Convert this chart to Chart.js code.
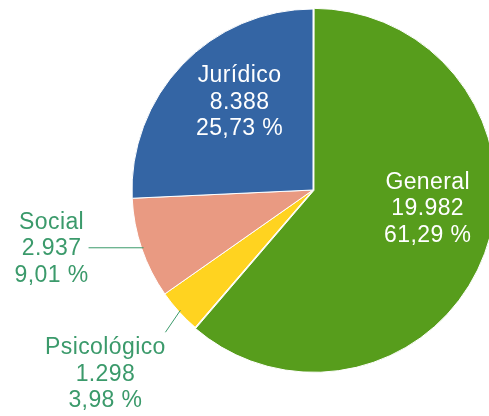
<!DOCTYPE html>
<html>
<head>
<meta charset="utf-8">
<script src="https://cdn.jsdelivr.net/npm/chart.js@4.4.1/dist/chart.umd.min.js"></script>
<style>
  html, body { margin: 0; padding: 0; background: #fff; }
  #wrap { width: 489px; height: 416px; }
</style>
</head>
<body>
<div id="wrap"><canvas id="pie" width="489" height="416"></canvas></div>
<script>
// data
const categories = ["General", "Psicológico", "Social", "Jurídico"];
const values = [19982, 1298, 2937, 8388];
const sliceColors = ["#579d1c", "#ffd320", "#e99a82", "#3465a4"];
const sliceOffsets = [4, 0, 0, 0];

// label placement (inside = white text on slice, outside = green text with leader line)
const labelLayout = [
  { inside: true, dx: 4, dy: -22 },
  { inside: false, lead: [-15, 22], text: [-75, 64] },
  { inside: false, lead: [-55, 0], text: [-92, 1] },
  { inside: true, dx: 9, dy: -9 }
];
const outsideColor = "#3b9a6b";
const labelFont = '23px "Liberation Sans", Arial, sans-serif';
const lineHeight = 26.5;

const total = values.reduce((a, b) => a + b, 0);

function fmtInt(n) {
  return String(n).replace(/\B(?=(\d{3})+(?!\d))/g, ".");
}
function fmtPct(n) {
  return (n * 100 / total).toFixed(2).replace(".", ",") + " %";
}

const pieLabels = {
  id: "pieLabels",
  afterDatasetsDraw(chart) {
    const ctx = chart.ctx;
    const meta = chart.getDatasetMeta(0);
    ctx.save();
    ctx.font = labelFont;
    ctx.letterSpacing = "0.4px";
    ctx.textAlign = "center";
    ctx.textBaseline = "middle";
    meta.data.forEach((arc, i) => {
      const p = arc.getProps(["x", "y", "startAngle", "endAngle", "outerRadius"], true);
      const mid = (p.startAngle + p.endAngle) / 2;
      const off = sliceOffsets[i];
      const cx = p.x + Math.cos(mid) * off;
      const cy = p.y + Math.sin(mid) * off;
      const lines = [categories[i], fmtInt(values[i]), fmtPct(values[i])];
      const lay = labelLayout[i];
      let tx, ty;
      if (lay.inside) {
        const r = p.outerRadius * 0.63;
        tx = cx + Math.cos(mid) * r + lay.dx;
        ty = cy + Math.sin(mid) * r + lay.dy;
        ctx.fillStyle = "#ffffff";
      } else {
        const ex = cx + Math.cos(mid) * (p.outerRadius - 2);
        const ey = cy + Math.sin(mid) * (p.outerRadius - 2);
        ctx.strokeStyle = outsideColor;
        ctx.lineWidth = 1;
        ctx.beginPath();
        ctx.moveTo(ex, ey);
        ctx.lineTo(ex + lay.lead[0], ey + lay.lead[1]);
        ctx.stroke();
        tx = ex + lay.text[0];
        ty = ey + lay.text[1];
        ctx.fillStyle = outsideColor;
      }
      lines.forEach((s, k) => {
        ctx.fillText(s, tx, ty + (k - 1) * lineHeight);
      });
    });
    ctx.restore();
  }
};

new Chart(document.getElementById("pie"), {
  type: "pie",
  data: {
    labels: categories,
    datasets: [{
      data: values,
      backgroundColor: sliceColors,
      borderColor: "#ffffff",
      borderWidth: 1,
      offset: sliceOffsets
    }]
  },
  options: {
    responsive: false,
    animation: false,
    devicePixelRatio: 1,
    radius: 181,
    layout: { padding: { left: 137, right: 0, top: 9, bottom: 45 } },
    plugins: {
      legend: { display: false },
      tooltip: { enabled: false }
    }
  },
  plugins: [pieLabels]
});
</script>
</body>
</html>
